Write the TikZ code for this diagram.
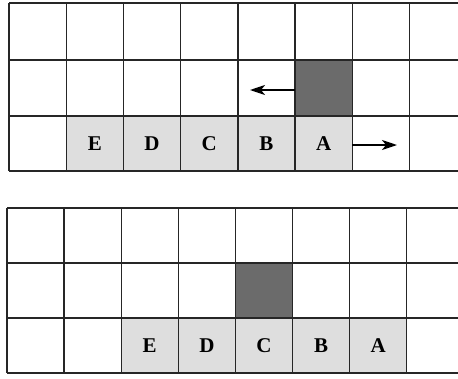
\documentclass[tikz,border=0pt]{standalone}
\usepackage{fontspec}
\setmainfont{Liberation Serif}
\usetikzlibrary{arrows.meta}
\tikzset{
  gridline/.style={line width=1.4pt, black!85},
  lightcell/.style={draw=none, fill=black!13, inner sep=0pt},
  celltext/.style={font=\bfseries\fontsize{21pt}{21pt}\selectfont},
  darkcell/.style={draw=none, fill=black!58, inner sep=0pt},
  movearrow/.style={line width=1.8pt, -{Stealth[length=15pt,width=10pt,inset=4pt]}}
}
\begin{document}
\begin{tikzpicture}[x=1pt,y=-1pt]
\useasboundingbox (0,0) rectangle (458,378);
% ---------- top grid ----------
\begin{scope}[lightcell/.append style={minimum width=57.2pt, minimum height=56pt},
              darkcell/.append style={minimum width=57.2pt, minimum height=56pt}]
\node[lightcell,celltext] (tE) at (94.8,143.5) {E};
\node[lightcell,celltext] (tD) at (152.0,143.5) {D};
\node[lightcell,celltext] (tC) at (209.2,143.5) {C};
\node[lightcell,celltext] (tB) at (266.4,143.5) {B};
\node[lightcell,celltext] (tA) at (323.6,143.5) {A};
\node[darkcell] (tX) at (323.6,88) {};
\end{scope}
\foreach \y in {3,60,116,171} \draw[gridline] (9,\y) -- (458,\y);
\foreach \i in {0,...,7} \draw[gridline] ({9+57.2*\i},3) -- ({9+57.2*\i},171);
\coordinate (tL) at (250,90);
\coordinate (tR) at (397,145);
\draw[movearrow] (tX.west |- tL) -- (tL);
\draw[movearrow] (tA.east |- tR) -- (tR);
% ---------- bottom grid ----------
\begin{scope}[lightcell/.append style={minimum width=57.1pt, minimum height=55pt},
              darkcell/.append style={minimum width=57.1pt, minimum height=55pt}]
\node[lightcell,celltext] (bE) at (149.75,345.5) {E};
\node[lightcell,celltext] (bD) at (206.85,345.5) {D};
\node[lightcell,celltext] (bC) at (263.95,345.5) {C};
\node[lightcell,celltext] (bB) at (321.05,345.5) {B};
\node[lightcell,celltext] (bA) at (378.15,345.5) {A};
\node[darkcell] (bX) at (263.95,290.5) {};
\end{scope}
\foreach \y in {208,263,318,373} \draw[gridline] (7,\y) -- (458,\y);
\foreach \i in {0,...,7} \draw[gridline] ({7+57.1*\i},208) -- ({7+57.1*\i},373);
\end{tikzpicture}
\end{document}
